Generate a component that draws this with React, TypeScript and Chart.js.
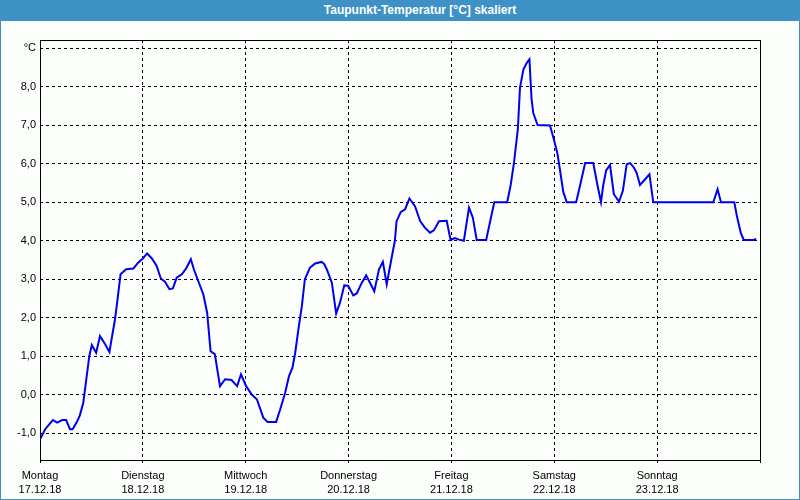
import React, { useEffect, useRef } from "react";
import { Chart, registerables } from "chart.js";

Chart.register(...registerables);

const TITLE = "Taupunkt-Temperatur [°C] skaliert";

const dayNames = ["Montag", "Dienstag", "Mittwoch", "Donnerstag", "Freitag", "Samstag", "Sonntag", ""];
const dayDates = ["17.12.18", "18.12.18", "19.12.18", "20.12.18", "21.12.18", "22.12.18", "23.12.18", ""];

// hours since Monday 17.12.18 00:00
const hours = [
  0, 1.2, 3.0, 4.0, 5.2, 6.1, 7.0, 7.6, 8.6, 9.3, 10.1, 10.9, 11.5, 12.1, 13.1, 14.0, 15.2, 16.2, 16.7, 17.5,
  18.0, 18.8, 20.1, 21.8, 22.9, 24.0, 25.0, 26.1, 27.2, 28.2, 29.2, 30.2, 31.0, 31.9, 33.1, 34.1, 35.2, 35.9,
  36.9, 38.1, 39.0, 39.8, 40.8, 42.0, 43.2, 44.7, 46.0, 46.9, 48.1, 49.4, 50.6, 52.1, 53.1, 55.1, 56.0, 57.2,
  58.1, 58.9, 59.5, 60.3, 61.1, 61.8, 63.0, 64.2, 65.7, 66.3, 66.9, 68.1, 69.1, 70.0, 71.0, 71.9, 73.1, 73.9,
  75.1, 76.1, 77.0, 78.0, 79.1, 80.0, 80.9, 81.7, 82.8, 83.2, 84.2, 85.2, 86.2, 87.5, 88.7, 89.8, 91.0, 91.9,
  93.1, 94.9, 95.8, 96.8, 97.8, 98.9, 100.1, 101.0, 101.9, 104.1, 106.0, 109.0, 109.8, 110.6, 111.5, 112.0,
  112.8, 113.6, 114.2, 114.7, 115.1, 116.1, 119.0, 119.8, 120.7, 121.3, 122.1, 122.9, 125.1, 126.0, 127.2,
  129.1, 130.1, 130.9, 131.4, 132.1, 133.0, 133.9, 135.1, 136.0, 136.9, 137.7, 138.6, 139.2, 140.0, 141.2,
  142.2, 143.1, 157.1, 158.1, 158.9, 162.0, 162.6, 163.5, 164.2, 166.5, 167.1,
];

const dewPoint = [
  -1.16, -0.9, -0.66, -0.73, -0.66, -0.66, -0.9, -0.9, -0.71, -0.54, -0.21, 0.48, 1.0, 1.29, 1.09, 1.52, 1.31,
  1.11, 1.44, 1.96, 2.39, 3.13, 3.26, 3.28, 3.43, 3.54, 3.67, 3.54, 3.35, 3.02, 2.93, 2.74, 2.76, 3.04, 3.13,
  3.28, 3.52, 3.26, 2.96, 2.61, 2.13, 1.13, 1.05, 0.22, 0.4, 0.38, 0.22, 0.53, 0.22, 0.0, -0.12, -0.6, -0.71,
  -0.71, -0.4, 0.05, 0.48, 0.7, 1.05, 1.7, 2.3, 3.0, 3.3, 3.41, 3.45, 3.4, 3.26, 2.91, 2.11, 2.39, 2.84, 2.83,
  2.58, 2.63, 2.91, 3.1, 2.91, 2.69, 3.26, 3.45, 2.87, 3.35, 4.0, 4.51, 4.75, 4.82, 5.1, 4.9, 4.51, 4.34, 4.21,
  4.27, 4.51, 4.52, 4.02, 4.07, 4.03, 4.0, 4.86, 4.6, 4.02, 4.02, 5.0, 5.0, 5.43, 6.03, 6.9, 7.98, 8.46, 8.63,
  8.72, 7.68, 7.32, 7.01, 7.0, 6.68, 6.29, 5.86, 5.27, 5.0, 5.0, 5.43, 6.02, 6.02, 5.43, 5.0, 5.43, 5.83, 5.97,
  5.21, 5.02, 5.3, 5.99, 6.02, 5.9, 5.77, 5.45, 5.6, 5.73, 5.0, 5.0, 5.34, 5.0, 5.0, 4.65, 4.21, 4.02, 4.02,
  4.05,
];

const Y_MIN = -1.7;
const Y_MAX = 9.22;
const Y_UNIT_TICK = 9;

const FONT = "'Liberation Sans', Arial, sans-serif";

export default function App() {
  const ref = useRef<HTMLCanvasElement | null>(null);

  useEffect(() => {
    if (!ref.current) return;
    const framePlugin = {
      id: "frame",
      afterDraw(chart: any) {
        const { ctx, chartArea } = chart;
        ctx.save();
        ctx.setLineDash([]);
        ctx.strokeStyle = "#000";
        ctx.lineWidth = 1;
        ctx.strokeRect(
          Math.round(chartArea.left) + 0.5,
          Math.round(chartArea.top) + 0.5,
          Math.round(chartArea.right - chartArea.left),
          Math.round(chartArea.bottom - chartArea.top)
        );
        ctx.restore();
      },
    };
    const chart = new Chart(ref.current, {
      type: "line",
      data: {
        datasets: [
          {
            data: hours.map((h, i) => ({ x: h, y: dewPoint[i] })),
            borderColor: "#0000f0",
            borderWidth: 2,
            pointRadius: 0,
            tension: 0,
            fill: false,
          },
        ],
      },
      options: {
        animation: false,
        responsive: false,
        devicePixelRatio: 1,
        layout: { padding: { left: 0, top: 19, right: 39, bottom: 0 } },
        plugins: { legend: { display: false }, tooltip: { enabled: false }, title: { display: false } },
        scales: {
          x: {
            type: "linear",
            min: 0,
            max: 168,
            afterFit: (s: any) => {
              s.height = 39;
            },
            ticks: {
              stepSize: 24,
              autoSkip: false,
              maxRotation: 0,
              padding: 6,
              color: "#000",
              font: { family: FONT, size: 11, lineHeight: 1.3 },
              callback: (v: any) => {
                const i = Math.round(Number(v) / 24);
                return dayNames[i] ? [dayNames[i], dayDates[i]] : "";
              },
            },
            grid: { color: "#000", lineWidth: 1, drawTicks: true, tickLength: 3 },
            border: { display: false, dash: [3, 3] },
          },
          y: {
            type: "linear",
            min: Y_MIN,
            max: Y_MAX,
            afterFit: (s: any) => {
              s.width = 39;
            },
            ticks: {
              stepSize: 1,
              includeBounds: false,
              padding: 4,
              color: "#000",
              font: { family: FONT, size: 11 },
              callback: (v: any) => {
                const n = Number(v);
                if (Math.abs(n - Y_UNIT_TICK) < 1e-6) return "°C";
                return n.toFixed(1).replace(".", ",");
              },
            },
            grid: { color: "#000", lineWidth: 1, drawTicks: false },
            border: { display: false, dash: [3, 3] },
          },
        },
      },
      plugins: [framePlugin],
    });
    return () => chart.destroy();
  }, []);

  return (
    <div
      style={{
        position: "absolute",
        left: 0,
        top: 0,
        width: 800,
        height: 500,
        background: "#3d91c4",
        overflow: "hidden",
      }}
    >
      <div
        style={{
          position: "absolute",
          left: 0,
          top: 0,
          width: 800,
          height: 21,
          lineHeight: "21px",
          color: "#fff",
          fontFamily: FONT,
          fontWeight: "bold",
          fontSize: 12,
          textAlign: "center",
          paddingLeft: 40,
          boxSizing: "border-box",
        }}
      >
        {TITLE}
      </div>
      <div
        style={{
          position: "absolute",
          left: 1,
          top: 21,
          width: 798,
          height: 478,
          background: "#fbfefb",
        }}
      >
        <canvas ref={ref} width={798} height={478} style={{ display: "block", width: 798, height: 478 }} />
      </div>
    </div>
  );
}
